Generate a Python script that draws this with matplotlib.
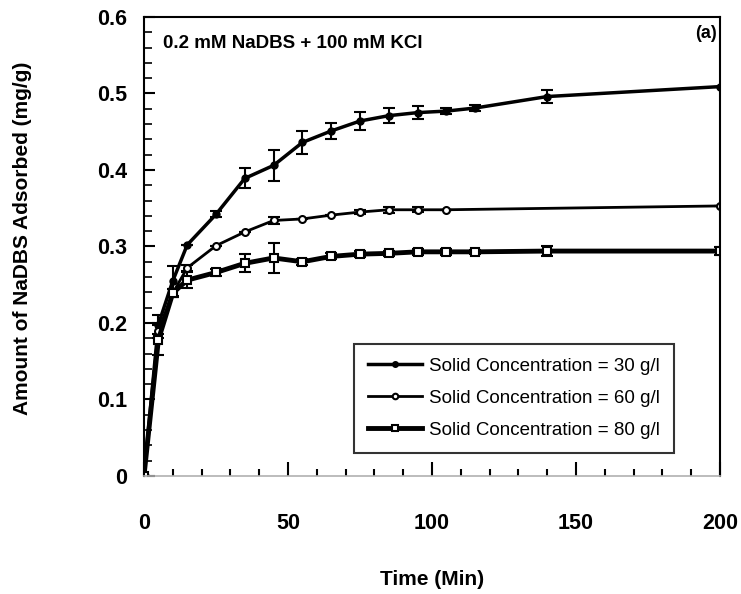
import numpy as np
import matplotlib.pyplot as plt
from matplotlib.ticker import MultipleLocator, FuncFormatter

# ========================
# DATA
# ========================

t_30 = [0, 5, 10, 15, 25, 35, 45, 55, 65, 75, 85, 95, 105, 115, 140, 200]
q_30 = [0.0, 0.198, 0.255, 0.302, 0.342, 0.389, 0.406, 0.436, 0.451, 0.464,
        0.471, 0.475, 0.477, 0.481, 0.496, 0.509]
err_30 = [0.0, 0.012, 0.02, 0.0, 0.004, 0.013, 0.02, 0.015, 0.01, 0.012,
          0.01, 0.008, 0.004, 0.004, 0.008, 0.0]

t_60 = [0, 5, 10, 15, 25, 35, 45, 55, 65, 75, 85, 95, 105, 200]
q_60 = [0.0, 0.19, 0.239, 0.272, 0.301, 0.319, 0.334, 0.336, 0.341, 0.345,
        0.348, 0.348, 0.348, 0.353]
err_60 = [0.0, 0.01, 0.005, 0.004, 0.0, 0.0, 0.004, 0.0, 0.0, 0.003,
          0.004, 0.003, 0.0, 0.0]

t_80 = [0, 5, 10, 15, 25, 35, 45, 55, 65, 75, 85, 95, 105, 115, 140, 200]
q_80 = [0.0, 0.178, 0.239, 0.256, 0.266, 0.278, 0.285, 0.280, 0.287, 0.290,
        0.291, 0.293, 0.293, 0.293, 0.294, 0.294]
err_80 = [0.0, 0.02, 0.005, 0.01, 0.005, 0.012, 0.02, 0.004, 0.004, 0.004,
          0.003, 0.004, 0.004, 0.003, 0.006, 0.005]

labels = ["Solid Concentration = 30 g/l",
          "Solid Concentration = 60 g/l",
          "Solid Concentration = 80 g/l"]

# ========================
# PLOT
# ========================

plt.rcParams['font.family'] = ['Liberation Sans', 'DejaVu Sans']

fig = plt.figure(figsize=(7.41, 5.94), dpi=100)
ax = fig.add_axes([0.1943, 0.1987, 0.7774, 0.7727])

ax.errorbar(t_30, q_30, yerr=err_30, color='black', lw=2.5, marker='o',
            ms=5, mfc='black', mec='black', capsize=4, elinewidth=1.5,
            capthick=1.5, label=labels[0])
ax.errorbar(t_60, q_60, yerr=err_60, color='black', lw=2, marker='o',
            ms=5, mfc='white', mec='black', mew=1.5, capsize=4,
            elinewidth=1.5, capthick=1.5, label=labels[1])
ax.errorbar(t_80, q_80, yerr=err_80, color='black', lw=3.5, marker='s',
            ms=6, mfc='white', mec='black', mew=1.5, capsize=4,
            elinewidth=1.5, capthick=1.5, label=labels[2])

ax.set_xlim(0, 200)
ax.set_ylim(0, 0.6)

ax.xaxis.set_major_locator(MultipleLocator(50))
ax.xaxis.set_minor_locator(MultipleLocator(10))
ax.yaxis.set_major_locator(MultipleLocator(0.1))
ax.yaxis.set_minor_locator(MultipleLocator(0.02))
ax.yaxis.set_major_formatter(FuncFormatter(
    lambda v, pos: '0' if abs(v) < 1e-9 else f'{v:.1f}'))

ax.tick_params(axis='x', which='major', direction='in', length=10, width=1.5,
               pad=27, labelsize=15.5)
ax.tick_params(axis='x', which='minor', direction='in', length=5, width=1.5)
ax.tick_params(axis='y', which='major', direction='in', length=8, width=1.5,
               pad=12, labelsize=15.5)
ax.tick_params(axis='y', which='minor', direction='in', length=6, width=1.2)
for lab in ax.get_xticklabels() + ax.get_yticklabels():
    lab.set_fontweight('bold')

for side in ['left', 'top', 'right']:
    ax.spines[side].set_linewidth(1.5)
    ax.spines[side].set_color('black')
ax.spines['bottom'].set_color('#b0b0b0')
ax.spines['bottom'].set_linewidth(1.2)

ax.set_xlabel("Time (Min)", fontsize=15, fontweight='bold')
ax.xaxis.set_label_coords(0.5, -0.205)
ax.set_ylabel("Amount of NaDBS Adsorbed (mg/g)", fontsize=15,
              fontweight='bold')
ax.yaxis.set_label_coords(-0.194, 0.518)

ax.text(0.033, 0.943, "0.2 mM NaDBS + 100 mM KCl", transform=ax.transAxes,
        fontsize=13.5, fontweight='bold', va='center', ha='left')
ax.text(0.994, 0.963, "(a)", transform=ax.transAxes,
        fontsize=13, fontweight='bold', va='center', ha='right')

# legend without error bars
handles, labs = ax.get_legend_handles_labels()
handles = [h[0] for h in handles]
leg = ax.legend(handles, labs, loc='lower right',
                bbox_to_anchor=(0.920, 0.050), borderaxespad=0,
                fontsize=13.5, frameon=True, fancybox=False,
                edgecolor='black', handlelength=2.9, borderpad=0.75,
                labelspacing=0.8, handletextpad=0.35, markerscale=0.8)
leg.get_frame().set_linewidth(1.5)

fig.savefig("out.png", dpi=100)
